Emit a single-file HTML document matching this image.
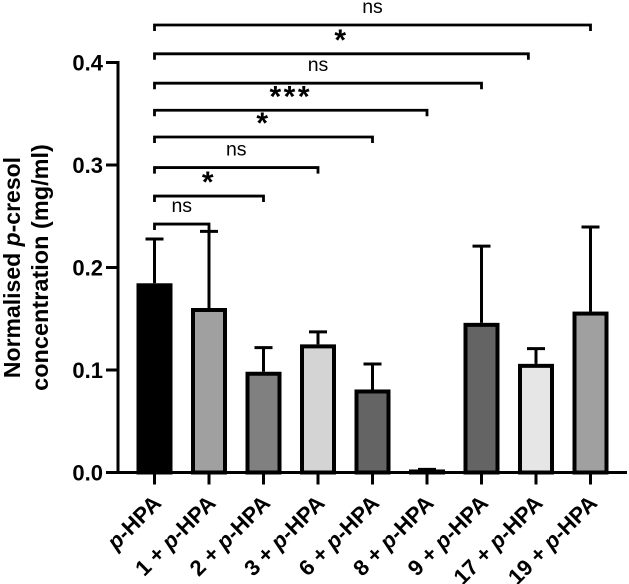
<!DOCTYPE html>
<html lang="en">
<head>
<meta charset="utf-8">
<title>Normalised p-cresol concentration</title>
<style>
html,body{margin:0;padding:0;background:#fff;width:629px;height:584px;overflow:hidden}
svg{display:block;font-family:"Liberation Sans",Arial,sans-serif}
</style>
</head>
<body>
<svg id="chart" width="629" height="584" viewBox="0 0 629 584" xmlns="http://www.w3.org/2000/svg">
  <g font-weight="bold" text-anchor="middle" fill="#000">
    <text font-size="23" transform="translate(20,267.5) rotate(-90)">Normalised <tspan font-style="italic">p</tspan>-cresol</text>
    <text font-size="23.5" transform="translate(48,267.5) rotate(-90)">concentration (mg/ml)</text>
  </g>
</svg>
<script>
const categories = ['p-HPA','1 + p-HPA','2 + p-HPA','3 + p-HPA','6 + p-HPA','8 + p-HPA','9 + p-HPA','17 + p-HPA','19 + p-HPA'];
const means = [0.1846,0.1605,0.0983,0.125,0.081,0.002,0.146,0.106,0.157];
const errors = [0.0432,0.0748,0.0235,0.0122,0.0248,0.001,0.0748,0.0148,0.0825];
const fills = ['#000000','#a0a0a0','#808080','#d4d4d4','#646464','#000000','#646464','#e6e6e6','#a0a0a0'];
const yTicks = [0,0.1,0.2,0.3,0.4];
const yTickLabels = ['0.0','0.1','0.2','0.3','0.4'];
const bracketEnds = [1,2,3,4,5,6,6.86,8];
const bracketLevels = [0.2424,0.2697,0.2975,0.3273,0.3534,0.3798,0.4085,0.4366];
const bracketLabels = ['ns','*','ns','*','***','ns','*','ns'];

const NS = 'http://www.w3.org/2000/svg';
const svg = document.getElementById('chart');
const y = v => 472.5 - v * 1025;
const x = i => 154.5 + i * 54.5;
function make(tag, attrs, parent, text) {
  const el = document.createElementNS(NS, tag);
  for (const k in attrs) el.setAttribute(k, attrs[k]);
  if (text !== undefined) el.textContent = text;
  parent.appendChild(el);
  return el;
}

// Bars with error bars
const barLayer = make('g', {}, svg);


categories.forEach((c, i) => {
  const cx = x(i), top = y(means[i]), errTop = y(means[i] + errors[i]);
  const err = make('path', {d:`M${cx} ${top}V${errTop}M${cx-9} ${errTop}H${cx+9}`, stroke:'#000', 'stroke-width':3, fill:'none'}, barLayer);
  
  
  const h = 472.5 - top;
  const inset = Math.min(2, h / 2);
  const bar = make('rect', {x:cx-16, y:top+inset, width:32, height:Math.max(h-inset,0), fill:fills[i], stroke:'#000', 'stroke-width':4}, barLayer);
  
  
});

// Y axis
const yAxis = make('g', {}, svg);


make('line', {x1:118, x2:118, y1:y(0.4)-1.5, y2:y(0)+1.5, stroke:'#000', 'stroke-width':3}, yAxis);
yTicks.forEach((t, i) => {
  make('line', {x1:106, x2:118, y1:y(t), y2:y(t), stroke:'#000', 'stroke-width':3}, yAxis);
  const lab = make('text', {x:103, y:y(t)+8, 'text-anchor':'end', 'font-size':22, 'font-weight':'bold', fill:'#000'}, yAxis, yTickLabels[i]);
  
  
});

// X axis
const xAxis = make('g', {}, svg);


make('line', {x1:106, x2:627, y1:y(0), y2:y(0), stroke:'#000', 'stroke-width':3}, xAxis);
categories.forEach((c, i) => {
  make('line', {x1:x(i), x2:x(i), y1:y(0), y2:y(0)+12, stroke:'#000', 'stroke-width':3}, xAxis);
  const lab = make('text', {transform:`translate(${x(i)+8},${y(0)+32}) rotate(-45)`, 'text-anchor':'end', 'font-size':22, 'font-weight':'bold', fill:'#000'}, xAxis);
  
  
  const parts = c.split('p-HPA');
  lab.appendChild(document.createTextNode(parts[0]));
  make('tspan', {'font-style':'italic'}, lab, 'p');
  lab.appendChild(document.createTextNode('-HPA'));
});

// Significance brackets
const brLayer = make('g', {}, svg);


bracketEnds.forEach((e, i) => {
  const by = y(bracketLevels[i]), x0 = x(0), x1 = x(e);
  const br = make('path', {d:`M${x0} ${by+6}V${by}H${x1}V${by+6}`, fill:'none', stroke:'#000', 'stroke-width':2.8}, brLayer);
  
  
  const mid = (x0 + x1) / 2;
  const star = bracketLabels[i] !== 'ns';
  const t = make('text', {x:mid, y: star ? by - 4 : by - 12, 'text-anchor':'middle', 'font-size': star ? 30 : 19.5, 'font-weight': star ? 'bold' : 'normal', 'letter-spacing': star ? 2.5 : 0, fill:'#000'}, brLayer, bracketLabels[i]);
  
  
});
</script>
</body>
</html>
